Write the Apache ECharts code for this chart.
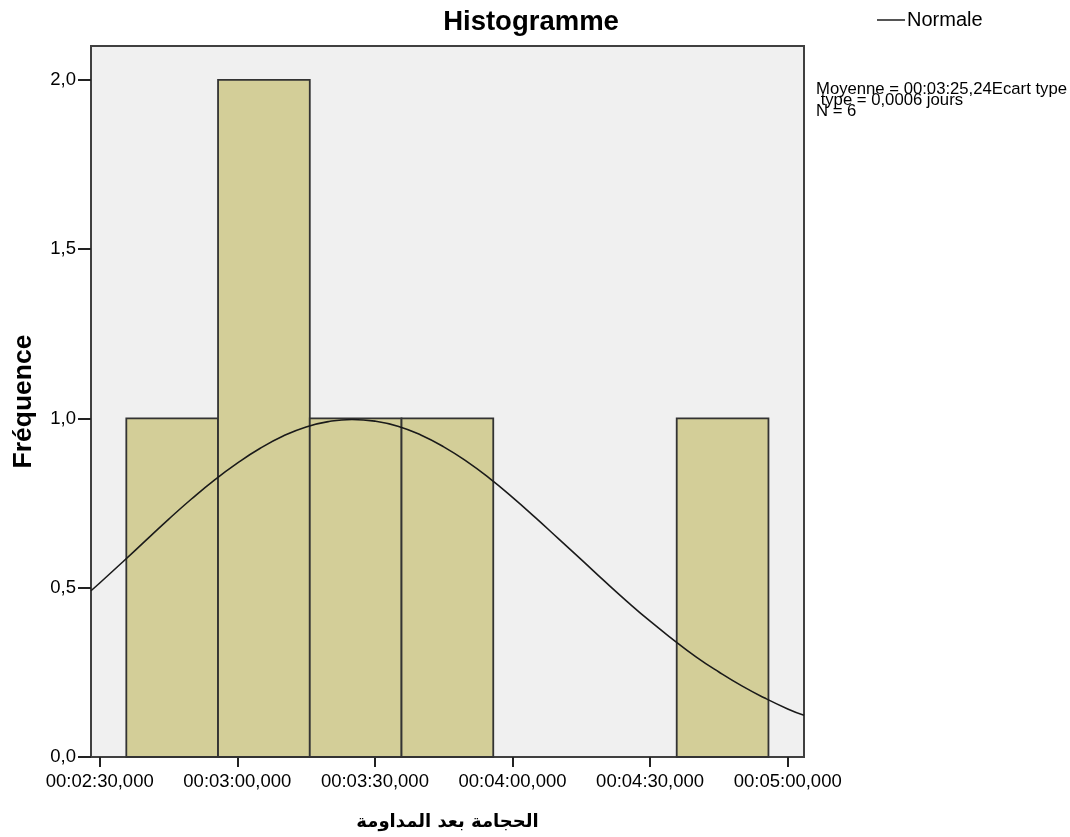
<!DOCTYPE html>
<html>
<head>
<meta charset="utf-8">
<script src="https://cdn.jsdelivr.net/npm/echarts@6/dist/echarts.min.js"></script>
<style>
  html, body { margin: 0; padding: 0; background: #ffffff; }
  #chart { width: 1070px; height: 837px; }
</style>
</head>
<body>
<div id="chart"></div>
<script>
// Histogram bins (durations in seconds), width of each bin, and counts
const binStarts = [155.8, 175.8, 195.8, 215.8, 235.8, 255.8, 275.8];
const binWidth = 20;
const binCounts = [1, 2, 1, 1, 0, 0, 1];

// Fitted normal curve, sampled in seconds
const curveTimes  = [148.1, 150, 155, 160, 165, 170, 175, 180, 185, 190, 195, 200, 205, 210, 215, 220,
                     225, 230, 235, 240, 245, 250, 255, 260, 265, 270, 275, 280, 285, 290, 295, 300, 303.55];
const curveValues = [0.491, 0.514, 0.576, 0.639, 0.702, 0.762, 0.818, 0.868, 0.912, 0.948, 0.975, 0.991, 0.997, 0.992, 0.977, 0.951,
                     0.916, 0.873, 0.823, 0.767, 0.707, 0.645, 0.583, 0.520, 0.459, 0.401, 0.347, 0.296, 0.251, 0.210, 0.174, 0.142, 0.123];

// Axis ticks
const xTickSeconds = [150, 180, 210, 240, 270, 300];
const xTickLabels = ['00:02:30,000', '00:03:00,000', '00:03:30,000', '00:04:00,000', '00:04:30,000', '00:05:00,000'];
const yTickValues = [0, 0.5, 1, 1.5, 2];
const yTickLabels = ['0,0', '0,5', '1,0', '1,5', '2,0'];

const xMin = 148.1, xMax = 303.55;
const statsText = 'Moyenne = 00:03:25,24Ecart type\n type = 0,0006 jours\nN = 6';

const barData = binStarts.map((s, i) => [s, s + binWidth, binCounts[i]]);
const curveData = curveTimes.map((t, i) => [t, curveValues[i]]);

const chart = echarts.init(document.getElementById('chart'), null, { renderer: 'canvas' });
const sans = '"Liberation Sans", Arial, sans-serif';

chart.setOption({
  backgroundColor: '#ffffff',
  animation: false,
  title: {
    text: 'Histogramme',
    left: 531, top: 8, padding: 0,
    textAlign: 'center',
    textStyle: { fontFamily: sans, fontSize: 27.5, fontWeight: 'bold', color: '#000' }
  },
  legend: {
    data: ['Normale'],
    left: 877, top: 10, padding: 0,
    itemWidth: 28, itemHeight: 14, itemGap: 2,
    textStyle: { fontFamily: sans, fontSize: 20, color: '#000', padding: [0, 0, 0, -3] },
    icon: 'path://M0,0 L28,0 L28,2 L0,2 Z'
  },
  grid: {
    left: 91, right: 266, top: 46, bottom: 80,
    show: true, backgroundColor: '#f0f0f0', borderColor: '#404040', borderWidth: 2
  },
  xAxis: {
    type: 'value', min: xMin, max: xMax,
    offset: 2,
    name: 'الحجامة بعد المداومة',
    nameLocation: 'middle', nameGap: 54,
    nameTextStyle: { fontFamily: '"DejaVu Sans", sans-serif', fontSize: 18, fontWeight: 'bold', color: '#000' },
    axisLine: { show: false },
    axisTick: { show: true, length: 10, customValues: xTickSeconds, lineStyle: { color: '#222', width: 2 } },
    axisLabel: {
      customValues: xTickSeconds, margin: 13,
      fontFamily: sans, fontSize: 18.5, color: '#000',
      formatter: v => xTickLabels[xTickSeconds.indexOf(v)]
    },
    splitLine: { show: false }
  },
  yAxis: {
    type: 'value', min: 0, max: 2.1,
    name: 'Fréquence',
    nameLocation: 'middle', nameGap: 54, nameRotate: 90,
    nameTextStyle: { fontFamily: sans, fontSize: 26.5, fontWeight: 'bold', color: '#000' },
    axisLine: { show: true, lineStyle: { color: '#404040', width: 2 } },
    axisTick: { show: true, length: 13, customValues: yTickValues, lineStyle: { color: '#222', width: 2 } },
    axisLabel: {
      customValues: yTickValues, margin: 15,
      fontFamily: sans, fontSize: 18.5, color: '#000',
      formatter: v => yTickLabels[yTickValues.indexOf(v)]
    },
    splitLine: { show: false }
  },
  series: [
    {
      name: 'Fréquence',
      type: 'custom',
      data: barData,
      encode: { x: [0, 1], y: 2 },
      renderItem: (params, api) => {
        const count = api.value(2);
        if (!count) return null;
        const tl = api.coord([api.value(0), count]);
        const br = api.coord([api.value(1), 0]);
        return {
          type: 'rect',
          shape: { x: tl[0], y: tl[1], width: br[0] - tl[0], height: br[1] - tl[1] },
          style: { fill: '#d3ce98', stroke: '#333333', lineWidth: 1.8 }
        };
      },
      z: 2
    },
    {
      name: 'Normale',
      type: 'line',
      data: curveData,
      smooth: 0.5,
      symbol: 'none',
      clip: true,
      lineStyle: { color: '#1a1a1a', width: 1.6 },
      itemStyle: { color: '#555' },
      z: 3
    }
  ],
  graphic: [
    {
      type: 'text',
      left: 816, top: 81,
      style: {
        text: statsText,
        fontFamily: sans, fontSize: 16.7, lineHeight: 11,
        fill: '#000'
      }
    }
  ]
});
</script>
</body>
</html>
